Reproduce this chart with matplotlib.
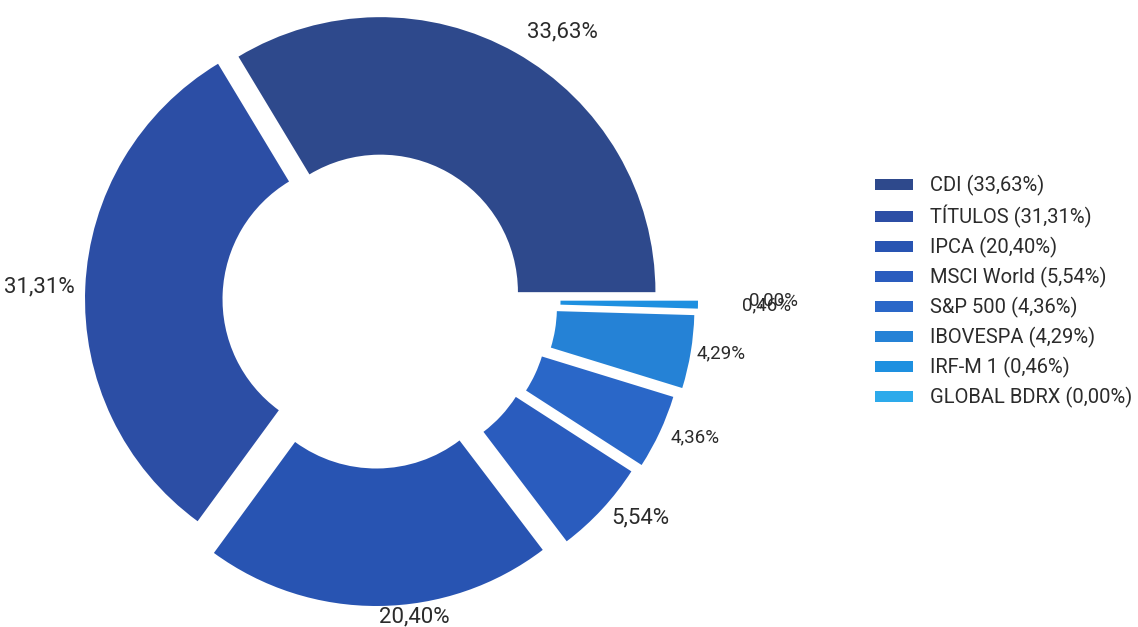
import matplotlib
matplotlib.use("Agg")
import math
import matplotlib.pyplot as plt

plt.rcParams["font.family"] = ["Roboto", "DejaVu Sans"]

# Portfolio allocation by benchmark
categories = ["CDI", "TÍTULOS", "IPCA", "MSCI World", "S&P 500",
              "IBOVESPA", "IRF-M 1", "GLOBAL BDRX"]
shares = [33.63, 31.31, 20.40, 5.54, 4.36, 4.29, 0.46, 0.00]

# Styling
colors = ["#2e498c", "#2c4ea5", "#2854b2", "#2a5cbe",
          "#2a67c8", "#2582d6", "#1e90e0", "#2daaeb"]
explode_px = [9, 16, 31, 33, 38, 44, 47, 47]
label_dist = [1.085, 1.04, 1.04, 1.045, 1.045, 1.02, 1.16, 1.185]
label_size = [16, 16, 16, 16, 13.5, 13.5, 13.5, 13.5]
text_color = "#2b2b2b"


def pct(v):
    return f"{v:.2f}".replace(".", ",") + "%"


W, H = 1138, 627
fig = plt.figure(figsize=(W / 100, H / 100), dpi=100)
ax = fig.add_axes([0, 0, 1, 1])

R = 275
cx, cy = 376, H - 300

wedges, _ = ax.pie(
    shares,
    explode=explode_px,
    colors=colors,
    radius=R,
    center=(cx, cy),
    startangle=0,
    counterclock=True,
    wedgeprops=dict(width=R * 0.5, linewidth=0),
)

# value labels placed just outside each wedge
for w, v, d, fs in zip(wedges, shares, label_dist, label_size):
    mid = math.radians((w.theta1 + w.theta2) / 2)
    wx, wy = w.center
    xt = wx + d * R * math.cos(mid)
    yt = wy + d * R * math.sin(mid)
    ha = "left" if math.cos(mid) > 0 else "right"
    ax.text(xt, yt, pct(v), ha=ha, va="center", fontsize=fs, color=text_color)

ax.set_xlim(0, W)
ax.set_ylim(0, H)
ax.set_aspect("equal")
ax.axis("off")

legend_labels = [f"{c} ({pct(v)})" for c, v in zip(categories, shares)]
ax.legend(
    wedges, legend_labels,
    loc="upper left",
    bbox_to_anchor=(875 / W, 1 - 175 / H),
    bbox_transform=fig.transFigure,
    frameon=False,
    fontsize=14.5,
    handlelength=1.9,
    handleheight=0.5,
    handletextpad=0.85,
    labelspacing=0.445,
    borderpad=0,
    borderaxespad=0,
    labelcolor=text_color,
)

fig.savefig("out.png", dpi=100, facecolor="white")
